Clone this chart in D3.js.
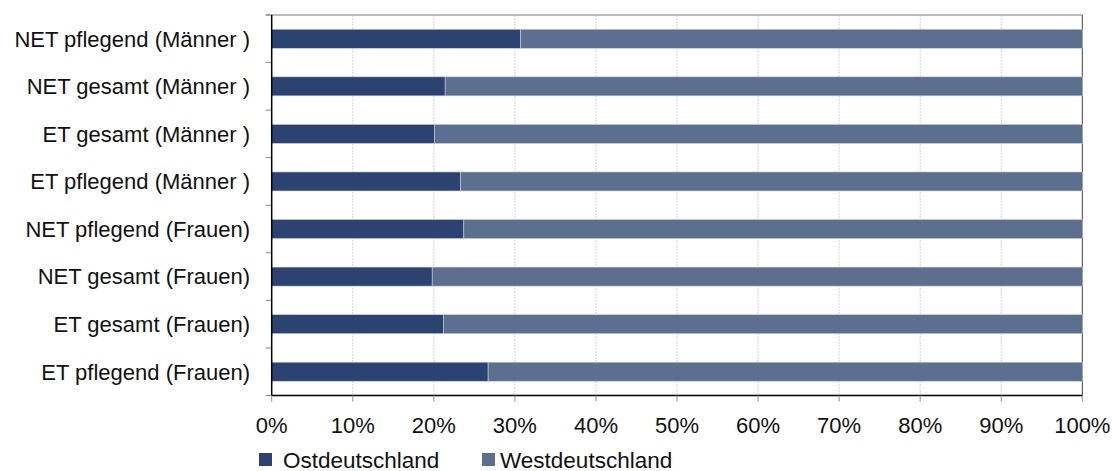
<!DOCTYPE html>
<html>
<head>
<meta charset="utf-8">
<script src="https://cdn.jsdelivr.net/npm/d3@7"></script>
<style>
  body { margin: 0; background: #fff; }
  text { font-family: "Liberation Sans", Arial, sans-serif; fill: #111; }
</style>
</head>
<body>
<svg id="chart" width="1113" height="471"></svg>
<script>
// data (share in %)
var categories = [
  "NET pflegend (Männer )",
  "NET gesamt (Männer )",
  "ET gesamt (Männer )",
  "ET pflegend (Männer )",
  "NET pflegend (Frauen)",
  "NET gesamt (Frauen)",
  "ET gesamt (Frauen)",
  "ET pflegend (Frauen)"
];
var ost  = [30.7, 21.4, 20.1, 23.3, 23.7, 19.8, 21.2, 26.7];
var west = [69.3, 78.6, 79.9, 76.7, 76.3, 80.2, 78.8, 73.3];
var seriesNames = ["Ostdeutschland", "Westdeutschland"];
var xTicks = [0, 10, 20, 30, 40, 50, 60, 70, 80, 90, 100];

var colors = ["#2c4271", "#5c6f8f"];

var svg = d3.select("#chart");
var plot = {left: 271.7, right: 1082.3, top: 15, bottom: 395.5};

var rows = categories.map(function(c, i) {
  return {cat: c, Ostdeutschland: ost[i], Westdeutschland: west[i]};
});
var stacked = d3.stack().keys(seriesNames)(rows);

var x = d3.scaleLinear().domain([0, 100]).range([plot.left, plot.right]);
var y = d3.scaleBand().domain(categories).range([plot.top, plot.bottom]).paddingInner(0.6).paddingOuter(0.3);
var yb = d3.scaleBand().domain(categories).range([plot.top, plot.bottom]);

// grid lines
svg.append("g").selectAll("line")
  .data(xTicks.slice(1, -1))
  .enter().append("line")
    .attr("x1", function(d) { return x(d); })
    .attr("x2", function(d) { return x(d); })
    .attr("y1", plot.top)
    .attr("y2", plot.bottom)
    .attr("stroke", "#d6d6d6")
    .attr("stroke-dasharray", "2,1");

// top and right border
svg.append("line")
  .attr("x1", plot.left - 6).attr("x2", plot.right)
  .attr("y1", plot.top).attr("y2", plot.top)
  .attr("stroke", "#a6a6a6").attr("stroke-width", 1.5);
svg.append("line")
  .attr("x1", plot.right).attr("x2", plot.right)
  .attr("y1", plot.top).attr("y2", plot.bottom)
  .attr("stroke", "#404040").attr("stroke-width", 1);

// bars
svg.append("g").selectAll("g")
  .data(stacked)
  .enter().append("g")
    .attr("fill", function(d, i) { return colors[i]; })
  .selectAll("rect")
  .data(function(d) { return d; })
  .enter().append("rect")
    .attr("x", function(d) { return x(d[0]); })
    .attr("width", function(d) { return x(d[1]) - x(d[0]); })
    .attr("y", function(d) { return y(d.data.cat); })
    .attr("height", y.bandwidth())
    .attr("stroke", "#c8cfdb")
    .attr("stroke-width", 0.6);

// y axis
var yTickPos = categories.map(function(c) { return yb(c); }).concat([plot.bottom]);
svg.append("g").selectAll("line")
  .data(yTickPos)
  .enter().append("line")
    .attr("x1", plot.left - 6).attr("x2", plot.left)
    .attr("y1", function(d) { return d; })
    .attr("y2", function(d) { return d; })
    .attr("stroke", "#8c8c8c");
svg.append("line")
  .attr("x1", plot.left).attr("x2", plot.left)
  .attr("y1", plot.top).attr("y2", plot.bottom)
  .attr("stroke", "#000").attr("stroke-width", 1.5);

svg.append("g").selectAll("text")
  .data(categories)
  .enter().append("text")
    .attr("x", 250)
    .attr("y", function(d) { return y(d) + y.bandwidth() / 2 + 7.8; })
    .attr("text-anchor", "end")
    .attr("font-size", "22px")
    .text(function(d) { return d; });

// x axis
svg.append("line")
  .attr("x1", plot.left).attr("x2", plot.right)
  .attr("y1", plot.bottom).attr("y2", plot.bottom)
  .attr("stroke", "#000").attr("stroke-width", 1.5);
svg.append("g").selectAll("line")
  .data(xTicks)
  .enter().append("line")
    .attr("x1", function(d) { return x(d); })
    .attr("x2", function(d) { return x(d); })
    .attr("y1", plot.bottom).attr("y2", plot.bottom + 6)
    .attr("stroke", "#8c8c8c");
svg.append("g").selectAll("text")
  .data(xTicks)
  .enter().append("text")
    .attr("x", function(d) { return x(d); })
    .attr("y", 433)
    .attr("text-anchor", "middle")
    .attr("font-size", "22px")
    .text(function(d) { return d + "%"; });

// legend
var legX = [259, 482], legTextX = [283, 500];
var leg = svg.append("g").selectAll("g")
  .data(seriesNames)
  .enter().append("g");
leg.append("rect")
  .attr("x", function(d, i) { return legX[i]; })
  .attr("y", 453)
  .attr("width", 13).attr("height", 13)
  .attr("fill", function(d, i) { return colors[i]; });
leg.append("text")
  .attr("x", function(d, i) { return legTextX[i]; })
  .attr("y", 467.5)
  .attr("font-size", "22.5px")
  .text(function(d) { return d; });
</script>
</body>
</html>
